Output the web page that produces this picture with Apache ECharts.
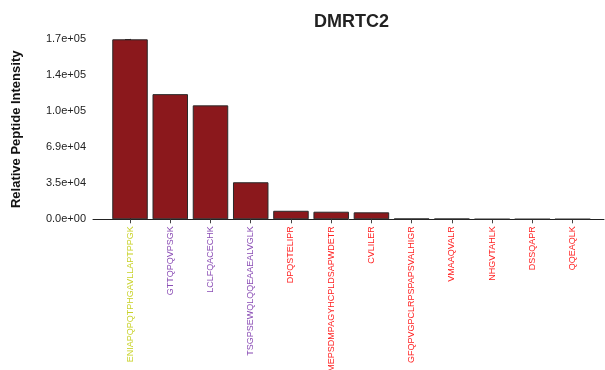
<!DOCTYPE html>
<html>
<head>
<meta charset="utf-8">
<script src="https://cdn.jsdelivr.net/npm/echarts@6/dist/echarts.min.js"></script>
<style>
  html, body { margin: 0; padding: 0; background: #fff; }
  #chart { width: 605px; height: 370px; }
</style>
</head>
<body>
<div id="chart"></div>
<script>
// Peptides detected for DMRTC2 and their relative intensities
const peptides = [
  'ENIAPQPQTPHGAVLLAPTPPGK', 'GTTQPQVPSGK', 'LCLFQACECHK',
  'TSGPSEWQLQQEAAEALVGLK', 'DPQSTELIPR', 'MEPSDMPAGYHCPLDSAPWDETR',
  'CVLILER', 'GFQPVGPCLRPSPAPSVALHIGR', 'VMAAQVALR', 'NHGVTAHLK',
  'DSSQAPR', 'QQEAQLK'
];
const intensities = [173000, 120300, 109500, 35600, 8200, 7300, 6700, 600, 500, 150, 150, 150];
// label colour group for each peptide
const labelColors = [
  '#c9d22a', '#8a4db5', '#8a4db5', '#8a4db5', '#ff2222', '#ff2222',
  '#ff2222', '#ff2222', '#ff2222', '#ff2222', '#ff2222', '#ff2222'
];
const yMax = 173000;

function sci(v) {
  if (v === 0) return '0.0e+00';
  const s = v.toExponential(1);
  const [m, e] = s.split('e');
  const sign = e[0] === '-' ? '-' : '+';
  const d = e.replace(/[+-]/, '').padStart(2, '0');
  return m + 'e' + sign + d;
}

const idx = peptides.map((_, i) => i);
const chart = echarts.init(document.getElementById('chart'));
chart.setOption({
  animation: false,
  title: {
    text: 'DMRTC2',
    left: 309,
    top: 8,
    textStyle: { fontFamily: 'Liberation Sans', fontSize: 18, fontWeight: 'bold', color: '#222' }
  },
  grid: { left: 93, right: 1, top: 39.3, bottom: 150.7, containLabel: false, outerBoundsMode: 'none' },
  xAxis: {
    type: 'value',
    min: -0.92,
    max: 11.78,
    splitLine: { show: false },
    axisLine: { show: true, lineStyle: { color: '#222', width: 1 } },
    axisTick: { show: true, customValues: idx, length: 4, lineStyle: { color: '#444' } },
    axisLabel: {
      show: true,
      customValues: idx,
      rotate: 90,
      margin: 7,
      fontFamily: 'Liberation Sans',
      fontSize: 9,
      formatter: (v) => peptides[Math.round(v)] || '',
      color: (v) => labelColors[Math.round(v)] || '#ff2222'
    }
  },
  yAxis: {
    type: 'value',
    min: 0,
    max: yMax,
    interval: yMax / 5,
    name: 'Relative Peptide Intensity',
    nameLocation: 'middle',
    nameGap: 70,
    nameTextStyle: { fontFamily: 'Liberation Sans', fontSize: 13, fontWeight: 'bold', color: '#111' },
    splitLine: { show: false },
    axisLine: { show: true, lineStyle: { color: '#222', width: 1 } },
    axisTick: { show: true, length: 5, lineStyle: { color: '#222' } },
    minorTick: { show: true, splitNumber: 5, length: 3, lineStyle: { color: '#333', width: 1 } },
    axisLabel: {
      margin: 7,
      fontFamily: 'Liberation Sans',
      fontSize: 11,
      color: '#222',
      formatter: (v) => sci(v)
    }
  },
  series: [{
    type: 'bar',
    barWidth: 35.5,
    data: intensities.map((v, i) => [i, v]),
    itemStyle: { color: '#8b181c', borderColor: '#2a2a2a', borderWidth: 1 }
  }]
});
</script>
</body>
</html>
